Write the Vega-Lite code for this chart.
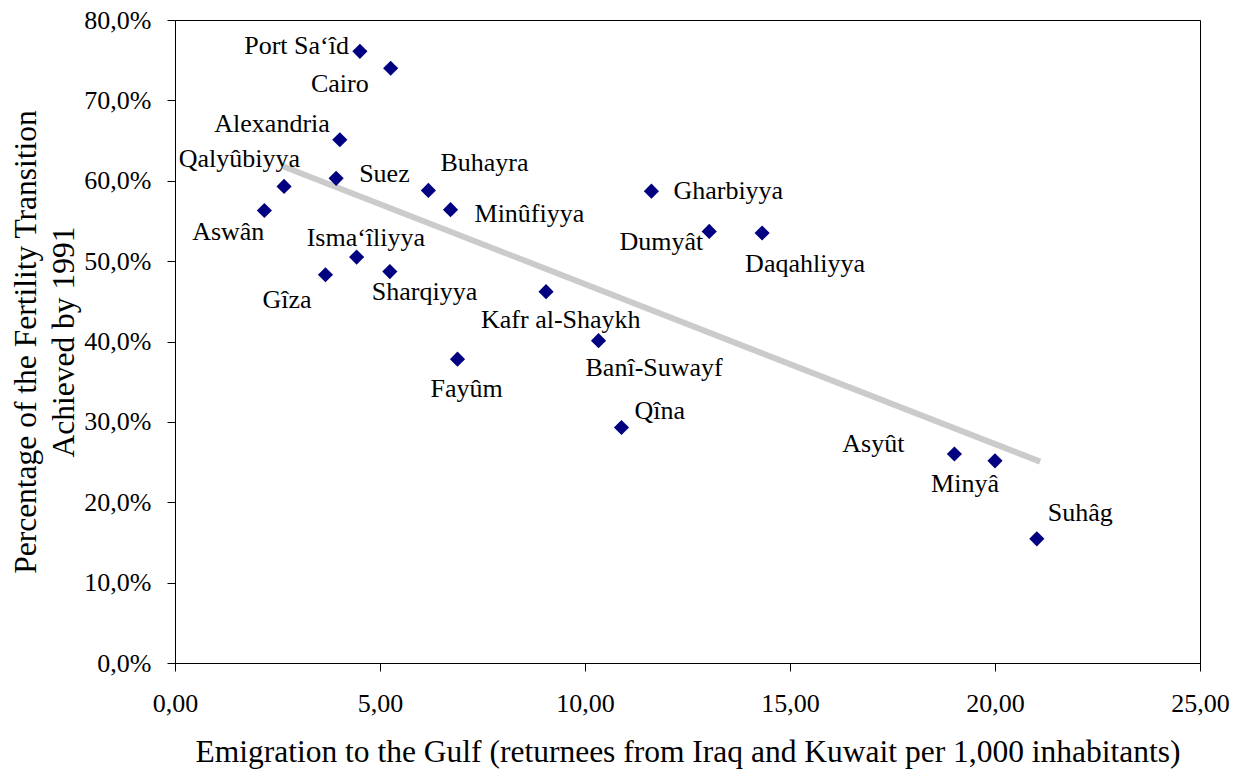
{
  "$schema": "https://vega.github.io/schema/vega-lite/v6.json",
  "autosize": "none",
  "width": 1025,
  "height": 643,
  "padding": {"left": 175, "top": 20, "right": 36, "bottom": 110},
  "background": "white",
  "config": {
    "view": {"stroke": "black", "strokeWidth": 1},
    "font": "Liberation Serif",
    "axis": {
      "grid": false,
      "domainColor": "black",
      "domainWidth": 1,
      "tickColor": "black",
      "tickWidth": 1,
      "tickSize": 8,
      "labelFont": "Liberation Serif",
      "labelFontSize": 26,
      "labelColor": "black",
      "labelFlush": false,
      "labelOverlap": false,
      "titleFont": "Liberation Serif",
      "titleFontSize": 31.5,
      "titleFontWeight": "normal",
      "titleColor": "black"
    },
    "text": {"font": "Liberation Serif", "fontSize": 26, "color": "black", "baseline": "alphabetic"}
  },
  "datasets": {
    "gov": [
      {"name": "Port Sa‘îd", "x": 4.51, "y": 0.761},
      {"name": "Cairo", "x": 5.26, "y": 0.740},
      {"name": "Alexandria", "x": 4.02, "y": 0.651},
      {"name": "Qalyûbiyya", "x": 2.66, "y": 0.593},
      {"name": "Suez", "x": 3.93, "y": 0.603},
      {"name": "Aswân", "x": 2.18, "y": 0.563},
      {"name": "Buhayra", "x": 6.18, "y": 0.588},
      {"name": "Minûfiyya", "x": 6.72, "y": 0.564},
      {"name": "Isma‘îliyya", "x": 4.43, "y": 0.505},
      {"name": "Gîza", "x": 3.67, "y": 0.483},
      {"name": "Sharqiyya", "x": 5.24, "y": 0.487},
      {"name": "Kafr al-Shaykh", "x": 9.05, "y": 0.462},
      {"name": "Gharbiyya", "x": 11.62, "y": 0.587},
      {"name": "Dumyât", "x": 13.03, "y": 0.537},
      {"name": "Daqahliyya", "x": 14.32, "y": 0.535},
      {"name": "Banî-Suwayf", "x": 10.33, "y": 0.401},
      {"name": "Fayûm", "x": 6.89, "y": 0.378},
      {"name": "Qîna", "x": 10.89, "y": 0.293},
      {"name": "Asyût", "x": 19.01, "y": 0.260},
      {"name": "Minyâ", "x": 20.0, "y": 0.2515},
      {"name": "Suhâg", "x": 21.02, "y": 0.1545}
    ],
    "trend": [
      {"x": 2.63, "y": 0.618},
      {"x": 21.1, "y": 0.2505}
    ]
  },
  "data": {"name": "gov"},
  "encoding": {
    "x": {
      "field": "x", "type": "quantitative",
      "scale": {"domain": [0, 25], "nice": false, "zero": false},
      "axis": {
        "values": [0, 5, 10, 15, 20, 25],
        "labelExpr": "replace(format(datum.value, '.2f'), '.', ',')",
        "labelPadding": 19,
        "title": "Emigration to the Gulf (returnees from Iraq and Kuwait per 1,000 inhabitants)",
        "titlePadding": 20
      }
    },
    "y": {
      "field": "y", "type": "quantitative",
      "scale": {"domain": [0, 0.8], "nice": false, "zero": false},
      "axis": {
        "values": [0, 0.1, 0.2, 0.3, 0.4, 0.5, 0.6, 0.7, 0.8],
        "labelExpr": "replace(format(datum.value, '.1%'), '.', ',')",
        "labelPadding": 16,
        "title": ["Percentage of the Fertility Transition", "Achieved by 1991"],
        "titleLineHeight": 38,
        "titlePadding": 3
      }
    }
  },
  "layer": [
    {
      "data": {"name": "trend"},
      "mark": {"type": "line", "color": "#cbcbcb", "strokeWidth": 6, "strokeCap": "butt"},
      "encoding": {}
    },
    {
      "mark": {"type": "point", "shape": "diamond", "filled": true, "color": "#000080", "size": 230, "opacity": 1}
    },
    {"transform": [{"filter": {"field": "name", "equal": "Port Sa‘îd"}}], "mark": {"type": "text", "align": "right", "dx": -11, "dy": 3}, "encoding": {"text": {"field": "name"}}},
    {"transform": [{"filter": {"field": "name", "equal": "Cairo"}}], "mark": {"type": "text", "align": "right", "dx": -22, "dy": 24}, "encoding": {"text": {"field": "name"}}},
    {"transform": [{"filter": {"field": "name", "equal": "Alexandria"}}], "mark": {"type": "text", "align": "right", "dx": -10, "dy": -8}, "encoding": {"text": {"field": "name"}}},
    {"transform": [{"filter": {"field": "name", "equal": "Qalyûbiyya"}}], "mark": {"type": "text", "align": "right", "dx": 16, "dy": -19}, "encoding": {"text": {"field": "name"}}},
    {"transform": [{"filter": {"field": "name", "equal": "Suez"}}], "mark": {"type": "text", "align": "left", "dx": 23, "dy": 4}, "encoding": {"text": {"field": "name"}}},
    {"transform": [{"filter": {"field": "name", "equal": "Aswân"}}], "mark": {"type": "text", "align": "right", "dx": 0, "dy": 30}, "encoding": {"text": {"field": "name"}}},
    {"transform": [{"filter": {"field": "name", "equal": "Buhayra"}}], "mark": {"type": "text", "align": "left", "dx": 12, "dy": -19}, "encoding": {"text": {"field": "name"}}},
    {"transform": [{"filter": {"field": "name", "equal": "Minûfiyya"}}], "mark": {"type": "text", "align": "left", "dx": 24, "dy": 12}, "encoding": {"text": {"field": "name"}}},
    {"transform": [{"filter": {"field": "name", "equal": "Isma‘îliyya"}}], "mark": {"type": "text", "align": "left", "dx": -50, "dy": -11}, "encoding": {"text": {"field": "name"}}},
    {"transform": [{"filter": {"field": "name", "equal": "Gîza"}}], "mark": {"type": "text", "align": "right", "dx": -14, "dy": 33}, "encoding": {"text": {"field": "name"}}},
    {"transform": [{"filter": {"field": "name", "equal": "Sharqiyya"}}], "mark": {"type": "text", "align": "left", "dx": -18, "dy": 28}, "encoding": {"text": {"field": "name"}}},
    {"transform": [{"filter": {"field": "name", "equal": "Kafr al-Shaykh"}}], "mark": {"type": "text", "align": "left", "dx": -65, "dy": 36}, "encoding": {"text": {"field": "name"}}},
    {"transform": [{"filter": {"field": "name", "equal": "Gharbiyya"}}], "mark": {"type": "text", "align": "left", "dx": 22, "dy": 8}, "encoding": {"text": {"field": "name"}}},
    {"transform": [{"filter": {"field": "name", "equal": "Dumyât"}}], "mark": {"type": "text", "align": "right", "dx": -6, "dy": 19}, "encoding": {"text": {"field": "name"}}},
    {"transform": [{"filter": {"field": "name", "equal": "Daqahliyya"}}], "mark": {"type": "text", "align": "left", "dx": -17, "dy": 39}, "encoding": {"text": {"field": "name"}}},
    {"transform": [{"filter": {"field": "name", "equal": "Banî-Suwayf"}}], "mark": {"type": "text", "align": "left", "dx": -13, "dy": 35}, "encoding": {"text": {"field": "name"}}},
    {"transform": [{"filter": {"field": "name", "equal": "Fayûm"}}], "mark": {"type": "text", "align": "left", "dx": -27, "dy": 38}, "encoding": {"text": {"field": "name"}}},
    {"transform": [{"filter": {"field": "name", "equal": "Qîna"}}], "mark": {"type": "text", "align": "left", "dx": 13, "dy": -9}, "encoding": {"text": {"field": "name"}}},
    {"transform": [{"filter": {"field": "name", "equal": "Asyût"}}], "mark": {"type": "text", "align": "right", "dx": -50, "dy": -2}, "encoding": {"text": {"field": "name"}}},
    {"transform": [{"filter": {"field": "name", "equal": "Minyâ"}}], "mark": {"type": "text", "align": "right", "dx": 4, "dy": 31}, "encoding": {"text": {"field": "name"}}},
    {"transform": [{"filter": {"field": "name", "equal": "Suhâg"}}], "mark": {"type": "text", "align": "left", "dx": 11, "dy": -18}, "encoding": {"text": {"field": "name"}}}
  ]
}
